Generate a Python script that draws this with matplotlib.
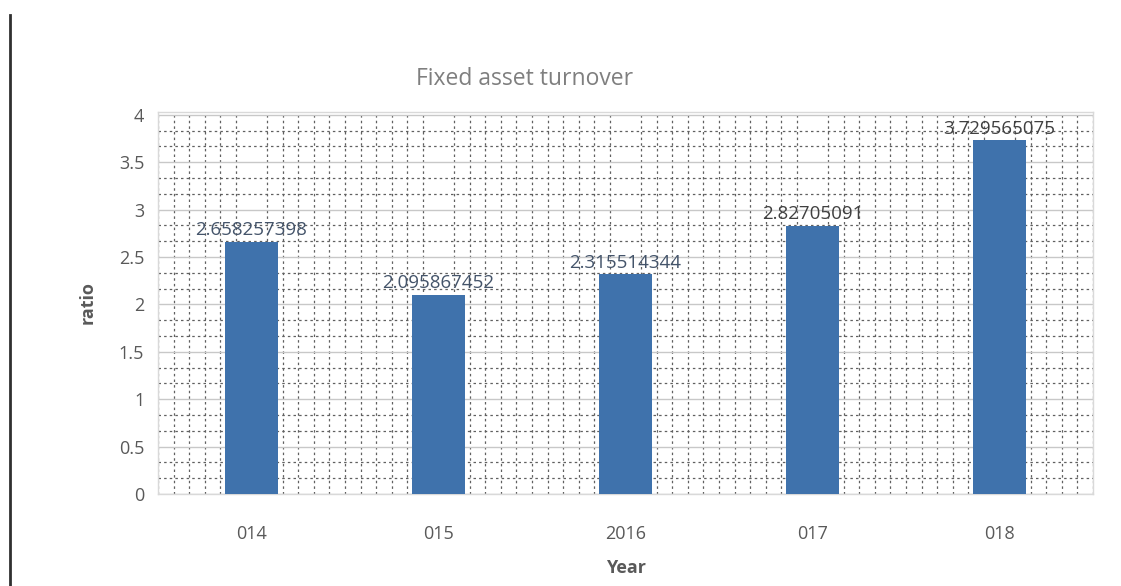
import matplotlib
matplotlib.use("Agg")
import matplotlib.pyplot as plt
from matplotlib.lines import Line2D
from matplotlib.ticker import MultipleLocator

years = ["014", "015", "2016", "017", "018"]
turnover = [2.658257398, 2.095867452, 2.315514344, 2.82705091, 3.729565075]
value_labels = ["2.658257398", "2.095867452", "2.315514344", "2.82705091", "3.729565075"]
label_colors = ["#44546a", "#44546a", "#44546a", "#404040", "#404040"]

plt.rcParams["font.family"] = ["Open Sans", "DejaVu Sans"]

fig = plt.figure(figsize=(11.21, 5.86), dpi=100)
ax = fig.add_axes([0.141, 0.157, 0.834, 0.652])

x = range(len(years))
ax.bar(x, turnover, width=0.28, color="#3f72ac", zorder=3)

for i, (v, lab) in enumerate(zip(turnover, value_labels)):
    ax.text(i, v + 0.03, lab, ha="center", va="bottom", fontsize=13.5,
            color=label_colors[i], zorder=4)

ax.set_xlim(-0.5, len(years) - 0.5)
ax.set_ylim(0, 4.03)
ax.set_xticks(list(x))
ax.set_xticklabels(years)
ax.yaxis.set_major_locator(MultipleLocator(0.5))
ax.yaxis.set_major_formatter(plt.FuncFormatter(lambda v, p: f"{v:g}"))
ax.yaxis.set_minor_locator(MultipleLocator(0.5 / 3))
ax.xaxis.set_minor_locator(MultipleLocator(1 / 12))

ax.grid(which="major", axis="y", color="#c8c8c8", linewidth=1, zorder=0)
ax.grid(which="minor", axis="both", color="#606060", linestyle=(0, (2, 2.5)),
        linewidth=0.9, zorder=1)
ax.tick_params(which="both", length=0)
ax.tick_params(axis="both", labelsize=13, labelcolor="#595959")
ax.tick_params(axis="y", pad=10)
ax.tick_params(axis="x", pad=22)

for s in ax.spines.values():
    s.set_color("#d9d9d9")
    s.set_linewidth(1)

fig.text(0.468, 0.865, "Fixed asset turnover", ha="center", va="center",
         fontsize=16.5, color="#7f7f7f")
ax.set_xlabel("Year", fontsize=13, fontweight="bold", color="#595959", labelpad=12)
ax.set_ylabel("ratio", fontsize=13, fontweight="bold", color="#595959", labelpad=16)

fig.add_artist(Line2D([0.009, 0.009], [0.0, 0.975], color="#303030", linewidth=2))

fig.savefig("out.png", dpi=100)
